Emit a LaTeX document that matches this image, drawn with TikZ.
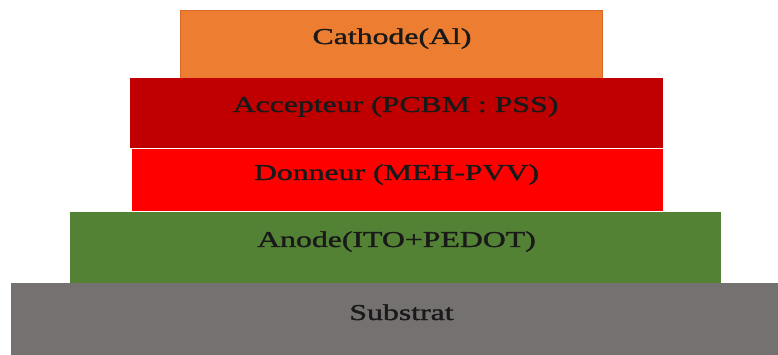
\documentclass[tikz,border=0pt]{standalone}
\usepackage{fontspec}
\setmainfont{Liberation Serif}
\newfontfamily\lblfont[FakeBold=1.2]{Liberation Serif}
\usepackage{graphicx}
\definecolor{cathodeC}{HTML}{ED7D31}
\definecolor{cathodeB}{HTML}{D46A26}
\definecolor{accC}{HTML}{C00000}
\definecolor{donC}{HTML}{FF0000}
\definecolor{anoC}{HTML}{548235}
\definecolor{subC}{HTML}{767171}
\tikzset{
  layer/.style={inner sep=0pt, outer sep=0pt, anchor=north west},
  lbl/.style={anchor=base, inner sep=0pt, font=\lblfont\fontsize{22.7}{27}\selectfont, text=black!90}
}
\newcommand{\wide}[1]{\scalebox{1.4}[1]{#1}}
\begin{document}
\begin{tikzpicture}[x=1pt,y=-1pt]
\useasboundingbox (0,0) rectangle (778,355);
\fill[white] (0,0) rectangle (778,355);
\node[layer, fill=cathodeC, draw=cathodeB, line width=0.6pt, minimum width=422pt, minimum height=68pt] (cath) at (180,10) {};
\node[layer, fill=accC, minimum width=533pt, minimum height=69.5pt] (acc) at (130,78.5) {};
\node[layer, fill=donC, minimum width=531pt, minimum height=62.5pt] (don) at (131.5,149) {};
\node[layer, fill=anoC, minimum width=651pt, minimum height=70.5pt] (ano) at (69.5,212) {};
\node[layer, fill=subC, minimum width=767pt, minimum height=72pt] (sub) at (11,283) {};
\node[lbl] (tcath) at (392,44) {\wide{Cathode(Al)}};
\node[lbl] (tacc) at (395.5,112) {\wide{Accepteur (PCBM : PSS)}};
\node[lbl] (tdon) at (396.5,180) {\wide{Donneur (MEH-PVV)}};
\node[lbl] (tano) at (396.5,247) {\wide{Anode(ITO+PEDOT)}};
\node[lbl] (tsub) at (401.5,320) {\wide{Substrat}};
\end{tikzpicture}
\end{document}
